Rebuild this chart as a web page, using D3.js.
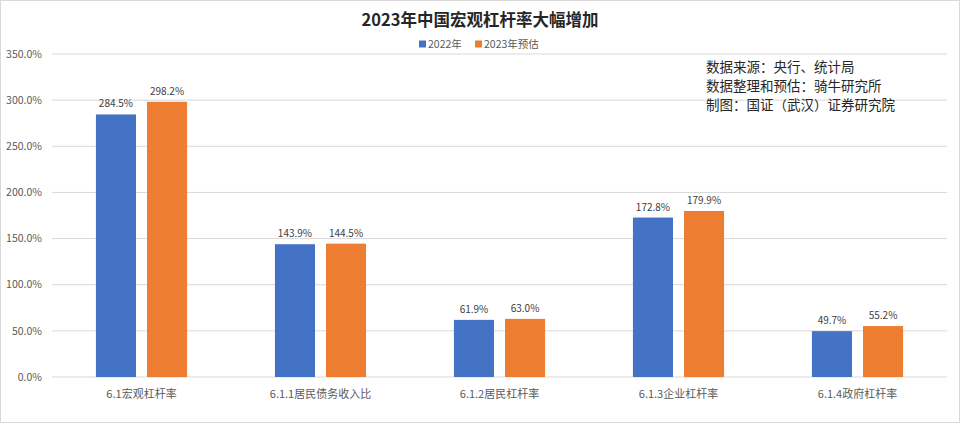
<!DOCTYPE html>
<html>
<head>
<meta charset="utf-8">
<script src="https://cdn.jsdelivr.net/npm/d3@7"></script>
<style>
  body { margin: 0; background: #fff; }
  text { font-family: "Noto Sans CJK SC", "Microsoft YaHei", sans-serif; }
</style>
</head>
<body>
<svg id="chart" width="960" height="423"></svg>
<script>
const categories = ["6.1宏观杠杆率", "6.1.1居民债务收入比", "6.1.2居民杠杆率", "6.1.3企业杠杆率", "6.1.4政府杠杆率"];
const seriesNames = ["2022年", "2023年预估"];
const values2022 = [284.5, 143.9, 61.9, 172.8, 49.7];
const values2023 = [298.2, 144.5, 63.0, 179.9, 55.2];
const yTicks = [0, 50, 100, 150, 200, 250, 300, 350];
const notes = ["数据来源：央行、统计局", "数据整理和预估：骑牛研究所", "制图：国证（武汉）证券研究院"];

const colors = ["#4472c4", "#ed7d31"];
const svg = d3.select("#chart");
const W = 960, H = 423;
const margin = { left: 52, right: 13, top: 54, bottom: 46 };

// outer border
svg.append("rect")
  .attr("x", 0.5).attr("y", 0.5)
  .attr("width", W - 1).attr("height", H - 1)
  .attr("fill", "#fff").attr("stroke", "#d9d9d9");

const x = d3.scaleBand()
  .domain(categories)
  .range([margin.left, W - margin.right]);

const x1 = d3.scaleBand()
  .domain(seriesNames)
  .range([0, x.bandwidth()])
  .paddingInner(0.216)
  .paddingOuter(0.86);

const y = d3.scaleLinear()
  .domain([0, 350])
  .range([H - margin.bottom, margin.top]);

// gridlines
svg.append("g")
  .selectAll("line")
  .data(yTicks)
  .enter()
  .append("line")
  .attr("x1", margin.left)
  .attr("x2", W - margin.right)
  .attr("y1", d => y(d))
  .attr("y2", d => y(d))
  .attr("stroke", "#d9d9d9")
  .attr("stroke-width", 1);

// y tick labels
svg.append("g")
  .selectAll("text")
  .data(yTicks)
  .enter()
  .append("text")
  .attr("x", 42)
  .attr("y", d => y(d))
  .attr("dy", "0.35em")
  .attr("text-anchor", "end")
  .attr("font-size", 10.5)
  .attr("fill", "#595959")
  .text(d => d.toFixed(1) + "%");

const rows = categories.map((c, i) => ({
  cat: c,
  vals: [values2022[i], values2023[i]]
}));

const groups = svg.append("g")
  .selectAll("g")
  .data(rows)
  .enter()
  .append("g")
  .attr("transform", d => `translate(${x(d.cat)},0)`);

groups.selectAll("rect")
  .data(d => d.vals.map((v, j) => ({ name: seriesNames[j], v, j })))
  .enter()
  .append("rect")
  .attr("x", d => x1(d.name))
  .attr("y", d => y(d.v))
  .attr("width", x1.bandwidth())
  .attr("height", d => y(0) - y(d.v))
  .attr("fill", d => colors[d.j]);

groups.selectAll("text")
  .data(d => d.vals.map((v, j) => ({ name: seriesNames[j], v, j })))
  .enter()
  .append("text")
  .attr("x", d => x1(d.name) + x1.bandwidth() / 2)
  .attr("y", d => y(d.v) - 7)
  .attr("text-anchor", "middle")
  .attr("font-size", 10)
  .attr("fill", "#404040")
  .text(d => d.v.toFixed(1) + "%");

// category labels
svg.append("g")
  .selectAll("text")
  .data(categories)
  .enter()
  .append("text")
  .attr("x", d => x(d) + x.bandwidth() / 2)
  .attr("y", y(0) + 17)
  .attr("dy", "0.35em")
  .attr("text-anchor", "middle")
  .attr("font-size", 11)
  .attr("fill", "#595959")
  .text(d => d);

// title
svg.append("text")
  .attr("x", W / 2)
  .attr("y", 20)
  .attr("dy", "0.35em")
  .attr("text-anchor", "middle")
  .attr("font-size", 16.5)
  .attr("font-weight", "bold")
  .attr("fill", "#262626")
  .text("2023年中国宏观杠杆率大幅增加");

// legend
const legendX = [419, 475];
const legend = svg.append("g")
  .selectAll("g")
  .data(seriesNames)
  .enter()
  .append("g")
  .attr("transform", (d, i) => `translate(${legendX[i]},44)`);

legend.append("rect")
  .attr("x", 0).attr("y", -3.5)
  .attr("width", 7).attr("height", 7)
  .attr("fill", (d, i) => colors[i]);

legend.append("text")
  .attr("x", 9)
  .attr("y", 0)
  .attr("dy", "0.35em")
  .attr("font-size", 10.5)
  .attr("fill", "#595959")
  .text(d => d);

// source notes
svg.append("g")
  .selectAll("text")
  .data(notes)
  .enter()
  .append("text")
  .attr("x", 706)
  .attr("y", (d, i) => 67 + i * 19)
  .attr("dy", "0.35em")
  .attr("font-size", 13.5)
  .attr("fill", "#262626")
  .text(d => d);
</script>
</body>
</html>
